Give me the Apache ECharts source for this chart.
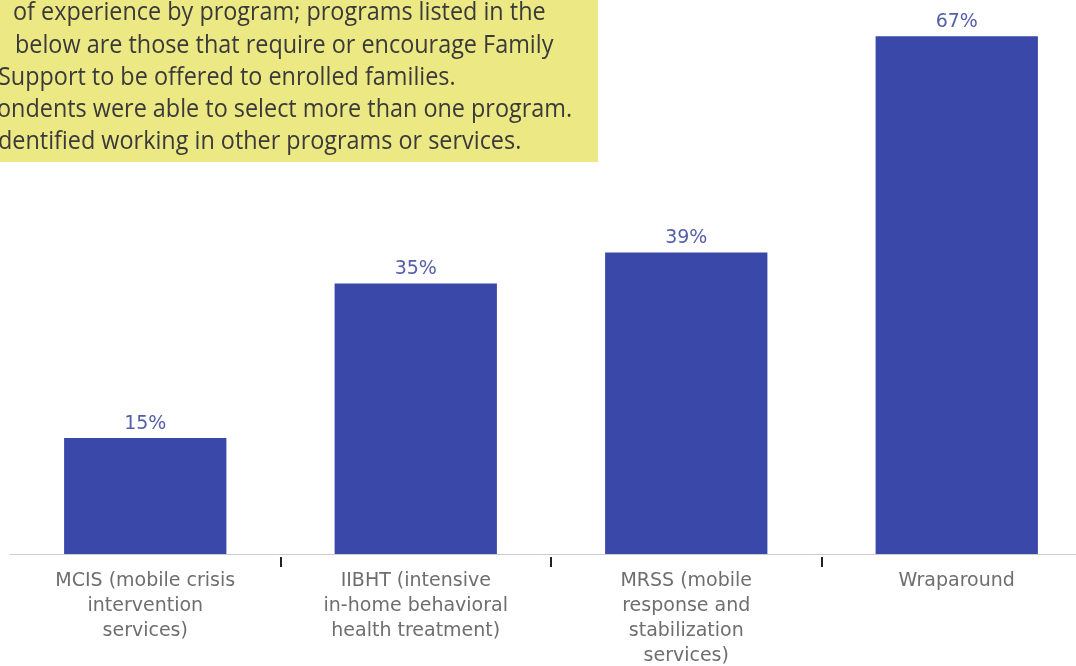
<!DOCTYPE html>
<html>
<head>
<meta charset="utf-8">
<script src="https://cdn.jsdelivr.net/npm/echarts@6/dist/echarts.min.js"></script>
<style>
  html, body { margin: 0; padding: 0; background: #fff; }
  #chart { width: 1076px; height: 666px; }
</style>
</head>
<body>
<div id="chart"></div>
<script>
// programs and share of respondents (%)
const programs = [
  "MCIS (mobile crisis\nintervention\nservices)",
  "IIBHT (intensive\nin-home behavioral\nhealth treatment)",
  "MRSS (mobile\nresponse and\nstabilization\nservices)",
  "Wraparound"
];
const shares = [15, 35, 39, 67];

// note box text (cropped in the original)
const noteLines = [
  "of experience by program; programs listed in the",
  "below are those that require or encourage Family",
  "Support to be offered to enrolled families.",
  "ondents were able to select more than one program.",
  "dentified working in other programs or services."
];
const noteOffsets = [13, 15, -2, -3, -2];

const myChart = echarts.init(document.getElementById("chart"));

const noteGraphics = [
  {
    type: "rect",
    left: 0,
    top: 0,
    shape: { width: 598, height: 162 },
    style: { fill: "#ece883" }
  }
];
noteLines.forEach((line, i) => {
  noteGraphics.push({
    type: "text",
    x: noteOffsets[i],
    y: 0 + i * 32.25,
    scaleX: 0.9,
    style: {
      text: line,
      fill: "#3a3a3a",
      font: "26px 'Open Sans', 'Noto Sans', sans-serif"
    }
  });
});

myChart.setOption({
  animation: false,
  grid: {
    left: 10,
    right: -16,
    top: 13,
    bottom: 112,
    outerBoundsMode: "none"
  },
  xAxis: [
    {
      type: "category",
      data: programs,
      axisLine: { lineStyle: { color: "#cccccc", width: 1 } },
      axisTick: { show: false },
      axisLabel: {
        interval: 0,
        margin: 15,
        color: "#6e6e6e",
        fontSize: 19,
        lineHeight: 25,
        fontFamily: "'DejaVu Sans', sans-serif"
      }
    },
    {
      // short ticks between the categories, sitting just under the axis
      type: "category",
      data: programs,
      position: "bottom",
      offset: 3,
      axisLine: { show: false },
      axisLabel: { show: false },
      axisTick: {
        show: true,
        length: 10,
        interval: (index) => index > 0,
        lineStyle: { color: "#222222", width: 2 }
      }
    }
  ],
  yAxis: {
    type: "value",
    min: 0,
    max: 70,
    show: false
  },
  series: [
    {
      type: "bar",
      data: shares,
      barCategoryGap: "40%",
      itemStyle: { color: "#3a48a9" },
      label: {
        show: true,
        position: "top",
        distance: 5,
        formatter: "{c}%",
        color: "#5560a8",
        fontSize: 19,
        fontFamily: "'DejaVu Sans', sans-serif"
      }
    }
  ],
  graphic: noteGraphics
});
</script>
</body>
</html>
